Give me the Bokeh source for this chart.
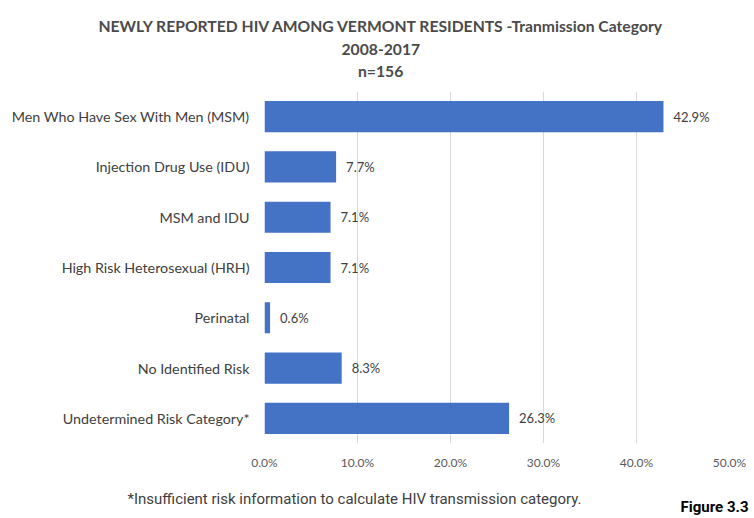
from bokeh.plotting import figure
from bokeh.models import (ColumnDataSource, Range1d, FactorRange, PrintfTickFormatter,
                          LabelSet, Title, FixedTicker)
from bokeh.core.properties import value
from bokeh.embed import file_html
from bokeh.resources import INLINE

categories = ["Men Who Have Sex With Men (MSM)", "Injection Drug Use (IDU)", "MSM and IDU",
              "High Risk Heterosexual (HRH)", "Perinatal", "No Identified Risk",
              "Undetermined Risk Category*"]
percent = [42.9, 7.7, 7.1, 7.1, 0.6, 8.3, 26.3]
x_ticks = [0, 10, 20, 30, 40, 50]
title_lines = ["NEWLY REPORTED HIV AMONG VERMONT RESIDENTS -Tranmission Category", "2008-2017", "n=156"]
footnote = "*Insufficient risk information to calculate HIV transmission category."
fig_label = "Figure 3.3"

FONT = "Lato"
W, H = 754, 518

src = ColumnDataSource(dict(cat=categories, val=percent,
                            lab=[f"{v:.1f}%" for v in percent]))

p = figure(width=W, height=H, output_backend="svg", toolbar_location=None,
           y_range=FactorRange(*reversed(categories)), x_range=Range1d(0, 50),
           min_border_left=264, min_border_right=25, min_border_top=91, min_border_bottom=75)
p.outline_line_color = None
p.background_fill_color = "white"
p.border_fill_color = "white"

p.hbar(y="cat", right="val", left=0, height=0.62, source=src, color="#4472C4", line_color=None)

p.add_layout(LabelSet(x="val", y="cat", text="lab", source=src, x_offset=10, text_baseline="middle",
                      text_font=value(FONT), text_font_size="13px", text_color="#404040"))

p.xaxis.ticker = FixedTicker(ticks=x_ticks)
p.xaxis.formatter = PrintfTickFormatter(format="%.1f%%")
p.xaxis.axis_line_color = None
p.xaxis.major_tick_line_color = None
p.xaxis.major_tick_out = 0
p.xaxis.major_tick_in = 0
p.xaxis.minor_tick_line_color = None
p.xaxis.major_label_standoff = 11
p.xaxis.major_label_text_font = FONT
p.xaxis.major_label_text_font_size = "12px"
p.xaxis.major_label_text_color = "#595959"
p.xaxis.axis_label = " "
p.xaxis.axis_label_text_font_size = "12px"
p.xaxis.axis_label_standoff = 0

p.yaxis.axis_line_color = None
p.yaxis.major_tick_line_color = None
p.yaxis.major_tick_out = 0
p.yaxis.major_tick_in = 0
p.yaxis.minor_tick_line_color = None
p.yaxis.major_label_standoff = 15
p.yaxis.major_label_text_font = FONT
p.yaxis.major_label_text_font_size = "14.3px"
p.yaxis.major_label_text_color = "#404040"

p.ygrid.grid_line_color = None
p.xgrid.grid_line_color = "#d9d9d9"
p.xgrid.ticker = FixedTicker(ticks=x_ticks)

# titles above: first added is closest to the frame
for t, off, so in zip(reversed(title_lines), [93.5, 77, -166], [22.25, -18.75, 28.25]):
    p.add_layout(Title(text=t, align="left", offset=off, standoff=so, vertical_align="middle",
                       text_font=FONT, text_font_size="15.7px", text_font_style="bold",
                       text_color="#4a4a4a"), "above")

p.add_layout(Title(text=footnote, align="left", offset=-137, standoff=0, vertical_align="top",
                   text_font="Roboto", text_font_size="15px", text_font_style="normal",
                   text_color="#404040"), "below")
p.add_layout(Title(text=fig_label, align="right", offset=-19, standoff=-23, vertical_align="top",
                   text_font="Roboto", text_font_size="15px", text_font_style="bold",
                   text_color="black"), "below")

open("out.html", "w").write(file_html(p, INLINE))
